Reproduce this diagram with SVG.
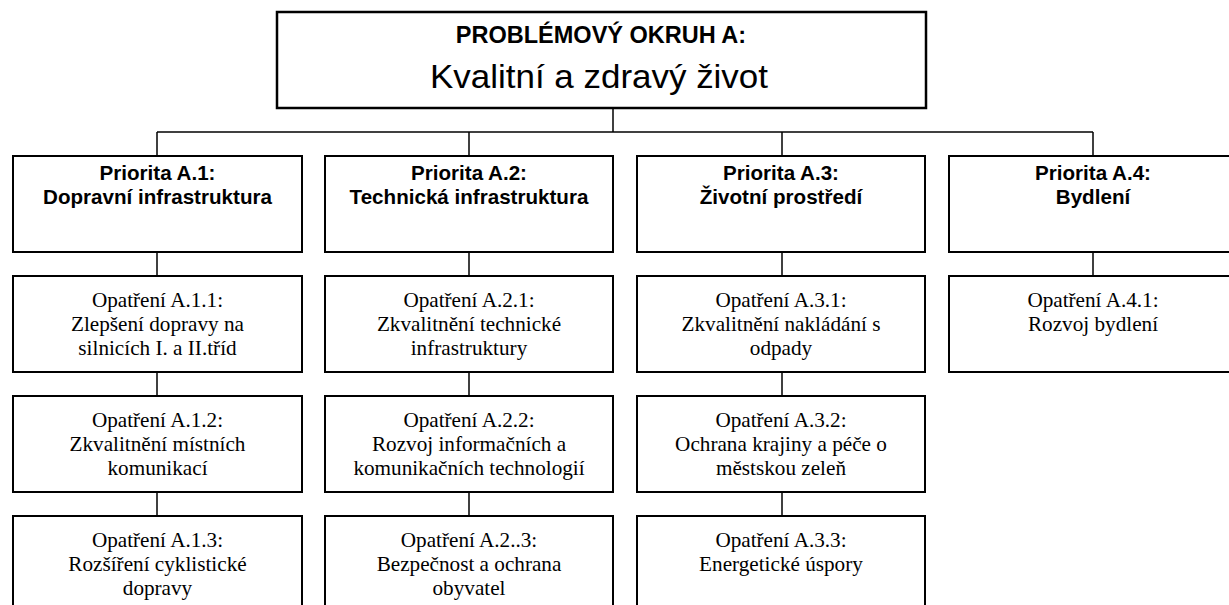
<svg xmlns="http://www.w3.org/2000/svg" width="1229" height="605" viewBox="0 0 1229 605">
<style>
  .box { fill: #ffffff; stroke: #000000; stroke-width: 2; }
  .top { fill: #ffffff; stroke: #000000; stroke-width: 2.5; }
  .conn { stroke: #000000; stroke-width: 1.5; fill: none; }
  .t1 { font-family: "Liberation Sans", Arial, sans-serif; font-weight: bold; font-size: 23.5px; text-anchor: middle; fill: #000; }
  .t2 { font-family: "Liberation Sans", Arial, sans-serif; font-size: 34px; text-anchor: middle; fill: #000; }
  .pr { font-family: "Liberation Sans", Arial, sans-serif; font-weight: bold; font-size: 20.6px; text-anchor: middle; fill: #000; }
  .op { font-family: "Liberation Serif", "Times New Roman", serif; font-size: 21.2px; text-anchor: middle; fill: #000; }
</style>
<rect width="1229" height="605" fill="#ffffff"/>
<g id="connectors">
  <line class="conn" x1="613" y1="108" x2="613" y2="132"/>
  <line class="conn" x1="157" y1="132" x2="1093" y2="132"/>
  <line class="conn" x1="157" y1="132" x2="157" y2="156"/>
  <line class="conn" x1="469" y1="132" x2="469" y2="156"/>
  <line class="conn" x1="782" y1="132" x2="782" y2="156"/>
  <line class="conn" x1="1093" y1="132" x2="1093" y2="156"/>
  <line class="conn" x1="157" y1="252" x2="157" y2="276"/>
  <line class="conn" x1="157" y1="372" x2="157" y2="396"/>
  <line class="conn" x1="157" y1="492" x2="157" y2="516"/>
  <line class="conn" x1="469" y1="252" x2="469" y2="276"/>
  <line class="conn" x1="469" y1="372" x2="469" y2="396"/>
  <line class="conn" x1="469" y1="492" x2="469" y2="516"/>
  <line class="conn" x1="782" y1="252" x2="782" y2="276"/>
  <line class="conn" x1="782" y1="372" x2="782" y2="396"/>
  <line class="conn" x1="782" y1="492" x2="782" y2="516"/>
  <line class="conn" x1="1093" y1="252" x2="1093" y2="276"/>
</g>
<g id="root">
  <rect class="top" x="277" y="12" width="649" height="96"/>
  <text class="t1" x="601" y="43">PROBLÉMOVÝ OKRUH A:</text>
  <text class="t2" x="599" y="88" textLength="338" lengthAdjust="spacingAndGlyphs">Kvalitní a zdravý život</text>
</g>
<g id="pA1">
  <rect class="box" x="13" y="156" width="289" height="96"/>
  <text class="pr" x="157.5" y="180">Priorita A.1:</text>
  <text class="pr" x="157.5" y="204">Dopravní infrastruktura</text>
</g>
<g id="pA2">
  <rect class="box" x="325" y="156" width="288" height="96"/>
  <text class="pr" x="469" y="180">Priorita A.2:</text>
  <text class="pr" x="469" y="204">Technická infrastruktura</text>
</g>
<g id="pA3">
  <rect class="box" x="637" y="156" width="288" height="96"/>
  <text class="pr" x="781" y="180">Priorita A.3:</text>
  <text class="pr" x="781" y="204">Životní prostředí</text>
</g>
<g id="pA4">
  <rect class="box" x="949" y="156" width="288" height="96"/>
  <text class="pr" x="1093" y="180">Priorita A.4:</text>
  <text class="pr" x="1093" y="204">Bydlení</text>
</g>
<g id="oA11">
  <rect class="box" x="13" y="276" width="289" height="96"/>
  <text class="op" x="157.5" y="306.5">Opatření A.1.1:</text>
  <text class="op" x="157.5" y="330.5">Zlepšení dopravy na</text>
  <text class="op" x="157.5" y="354.5">silnicích I. a II.tříd</text>
</g>
<g id="oA12">
  <rect class="box" x="13" y="396" width="289" height="96"/>
  <text class="op" x="157.5" y="426.5">Opatření A.1.2:</text>
  <text class="op" x="157.5" y="450.5">Zkvalitnění místních</text>
  <text class="op" x="157.5" y="474.5">komunikací</text>
</g>
<g id="oA13">
  <rect class="box" x="13" y="516" width="289" height="96"/>
  <text class="op" x="157.5" y="546.5">Opatření A.1.3:</text>
  <text class="op" x="157.5" y="570.5">Rozšíření cyklistické</text>
  <text class="op" x="157.5" y="594.5">dopravy</text>
</g>
<g id="oA21">
  <rect class="box" x="325" y="276" width="288" height="96"/>
  <text class="op" x="469" y="306.5">Opatření A.2.1:</text>
  <text class="op" x="469" y="330.5">Zkvalitnění technické</text>
  <text class="op" x="469" y="354.5">infrastruktury</text>
</g>
<g id="oA22">
  <rect class="box" x="325" y="396" width="288" height="96"/>
  <text class="op" x="469" y="426.5">Opatření A.2.2:</text>
  <text class="op" x="469" y="450.5">Rozvoj informačních a</text>
  <text class="op" x="469" y="474.5">komunikačních technologií</text>
</g>
<g id="oA23">
  <rect class="box" x="325" y="516" width="288" height="96"/>
  <text class="op" x="469" y="546.5">Opatření A.2..3:</text>
  <text class="op" x="469" y="570.5">Bezpečnost a ochrana</text>
  <text class="op" x="469" y="594.5">obyvatel</text>
</g>
<g id="oA31">
  <rect class="box" x="637" y="276" width="288" height="96"/>
  <text class="op" x="781" y="306.5">Opatření A.3.1:</text>
  <text class="op" x="781" y="330.5">Zkvalitnění nakládání s</text>
  <text class="op" x="781" y="354.5">odpady</text>
</g>
<g id="oA32">
  <rect class="box" x="637" y="396" width="288" height="96"/>
  <text class="op" x="781" y="426.5">Opatření A.3.2:</text>
  <text class="op" x="781" y="450.5">Ochrana krajiny a péče o</text>
  <text class="op" x="781" y="474.5">městskou zeleň</text>
</g>
<g id="oA33">
  <rect class="box" x="637" y="516" width="288" height="96"/>
  <text class="op" x="781" y="546.5">Opatření A.3.3:</text>
  <text class="op" x="781" y="570.5">Energetické úspory</text>
</g>
<g id="oA41">
  <rect class="box" x="949" y="276" width="288" height="96"/>
  <text class="op" x="1093" y="306.5">Opatření A.4.1:</text>
  <text class="op" x="1093" y="330.5">Rozvoj bydlení</text>
</g>
</svg>
